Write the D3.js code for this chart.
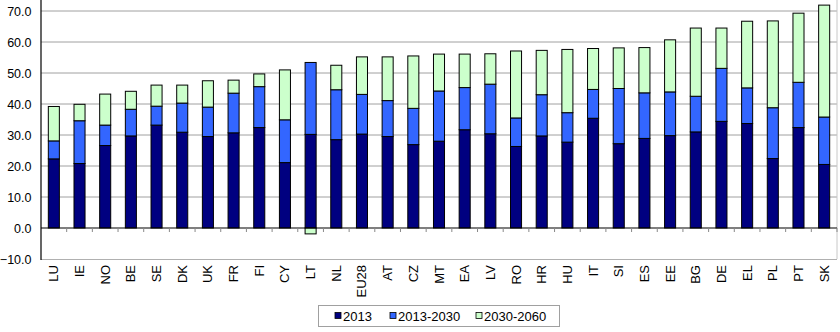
<!DOCTYPE html>
<html><head><meta charset="utf-8">
<script src="https://cdn.jsdelivr.net/npm/d3@7"></script>
<style>body{margin:0;background:#fff}svg{display:block;font-family:"Liberation Sans",Arial,sans-serif}</style>
</head><body><svg id="c" width="840" height="332"></svg>
<script>
const categories = ["LU","IE","NO","BE","SE","DK","UK","FR","FI","CY","LT","NL","EU28","AT","CZ","MT","EA","LV","RO","HR","HU","IT","SI","ES","EE","BG","DE","EL","PL","PT","SK"];
const v2013 =      [22.3,20.8,26.6,29.7,33.2,30.9,29.5,30.7,32.4,21.1,30.2,28.5,30.3,29.5,26.9,28.0,31.7,30.4,26.3,29.7,27.7,35.4,27.2,28.9,29.8,31.0,34.4,33.7,22.4,32.4,20.5];
const v2013_2030 = [5.8,13.8,6.6,8.6,6.1,9.4,9.5,12.8,13.2,13.8,23.2,16.1,12.8,11.6,11.7,16.2,13.6,16.0,9.2,13.3,9.5,9.3,17.8,14.7,14.1,11.5,17.1,11.5,16.4,14.6,15.3];
const v2030_2060 = [11.1,5.3,10.0,5.8,6.8,5.8,8.5,4.2,4.1,16.1,-1.9,7.9,12.1,14.1,16.9,11.9,10.8,9.8,21.6,14.3,20.4,13.2,13.1,14.6,16.8,22.0,13.0,21.5,28.0,22.3,36.1];
const seriesNames = ["2013","2013-2030","2030-2060"];
const colors = ["#000080","#3366FF","#CCFFCC"];
const yTicks = [-10,0,10,20,30,40,50,60,70];

const svg = d3.select("#c");
const left = 41, right = 837;
const x = d3.scaleBand().domain(categories).range([left, right]).paddingInner(0.57).paddingOuter(0.285);
const y = d3.scaleLinear().domain([-10, 70]).range([259, 11]);

// gridlines
svg.append("g").selectAll("line").data(yTicks.filter(t => t !== 0 && t !== -10)).join("line")
  .attr("x1", left).attr("x2", right).attr("y1", d => y(d)).attr("y2", d => y(d))
  .attr("stroke", "#a0a0a0").attr("stroke-width", 1);
// bottom plot border and right border
svg.append("line").attr("x1", left).attr("x2", right).attr("y1", y(-10)+0.5).attr("y2", y(-10)+0.5).attr("stroke", "#b0b0b0");
svg.append("line").attr("x1", right).attr("x2", right).attr("y1", 0).attr("y2", y(-10)).attr("stroke", "#c8c8c8");

const rows = categories.map((c, i) => ({cat: c, "2013": v2013[i], "2013-2030": v2013_2030[i], "2030-2060": v2030_2060[i]}));
const stack = d3.stack().keys(seriesNames).offset(d3.stackOffsetDiverging)(rows);

svg.append("g").selectAll("g").data(stack).join("g")
  .attr("fill", (d, i) => colors[i])
  .selectAll("rect").data(d => d).join("rect")
  .attr("x", d => x(d.data.cat)).attr("width", x.bandwidth())
  .attr("y", d => y(Math.max(d[0], d[1]))).attr("height", d => Math.abs(y(d[0]) - y(d[1])))
  .attr("stroke", "#000").attr("stroke-width", 1);

// zero axis with ticks at band boundaries
svg.append("line").attr("x1", left).attr("x2", right).attr("y1", y(0)).attr("y2", y(0)).attr("stroke", "#000").attr("stroke-width", 1.2);
const bounds = categories.map(c => x(c) - x.step() * x.paddingInner() / 2).slice(1).concat([right]);
svg.append("g").selectAll("line").data(bounds).join("line")
  .attr("x1", d => d).attr("x2", d => d).attr("y1", y(0)).attr("y2", y(0) + 4).attr("stroke", "#888");

// y axis
const yAxis = d3.axisLeft(y).tickValues(yTicks).tickFormat(d3.format(".1f")).tickSize(0);
const ga = svg.append("g").attr("transform", `translate(${left},0)`).call(yAxis);
ga.select(".domain").remove();
ga.selectAll("line").remove();
ga.selectAll("text").attr("font-size", 12.5).attr("fill", "#000").attr("font-family", '"Liberation Sans",Arial,sans-serif').attr("x", -9.5);
svg.append("line").attr("x1", left).attr("x2", left).attr("y1", 0).attr("y2", y(-10)+1).attr("stroke", "#000").attr("stroke-width", 1.2);

// category labels
svg.append("g").selectAll("text").data(categories).join("text")
  .attr("transform", d => `translate(${x(d) + x.bandwidth()/2 + 4.5},265) rotate(-90)`)
  .attr("text-anchor", "end").attr("font-size", 13).attr("fill", "#000").text(d => d);

// legend
const lg = svg.append("g");
lg.append("rect").attr("x", 318.5).attr("y", 305.5).attr("width", 241).attr("height", 21).attr("fill", "#fff").attr("stroke", "#a0a0a0");
const legX = [335, 390, 476];
seriesNames.forEach((s, i) => {
  lg.append("rect").attr("x", legX[i]).attr("y", 312.5).attr("width", 6).attr("height", 6).attr("fill", colors[i]).attr("stroke", "#000").attr("stroke-width", 0.8);
  lg.append("text").attr("x", legX[i] + 8).attr("y", 320.5).attr("font-size", 13).attr("fill", "#000").text(s);
});
</script></body></html>
